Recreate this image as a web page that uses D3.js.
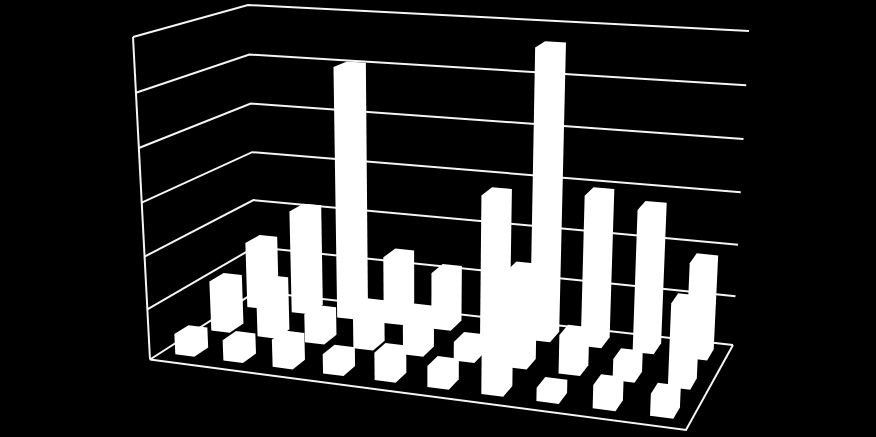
<!DOCTYPE html>
<html>
<head>
<meta charset="utf-8">
<script src="https://cdnjs.cloudflare.com/ajax/libs/d3/7.8.5/d3.min.js"></script>
<style>
  html, body { margin: 0; background: #000; overflow: hidden; }
</style>
</head>
<body>
<div id="chart"></div>
<script>
const columns = ["1", "2", "3", "4", "5", "6", "7", "8", "9", "10"];
const rows = ["front", "middle", "back"];
const gridLevels = [0, 1, 2, 3, 4, 5, 6];

const frontRow = [0.42, 0.42, 0.55, 0.39, 0.55, 0.42, 1.1, 0.27, 0.46, 0.43];
const middleRow = [1.03, 1.09, 0.59, 0.845, 0.845, 0.39, 1.88, 0.77, 0.43, 1.6];
const backRow = [1.38, 2.12, 5.05, 1.38, 1.16, 2.79, 5.67, 2.96, 2.78, 1.87];

const width = 876;
const height = 437;

const svg = d3.select("#chart").append("svg")
  .attr("width", width)
  .attr("height", height)
  .style("display", "block")
  .style("background", "#000");

// corners: front left, front right, back right, back left
const floorQuad = [[150, 359.5], [686, 430], [733, 345], [256, 291.5]];
const ceilQuad = [[133, 37], [701, 83], [749, 31], [248, 5]];

function bilerp(q, s, t) {
  const lx = q[0][0] + (q[3][0] - q[0][0]) * t, ly = q[0][1] + (q[3][1] - q[0][1]) * t;
  const rx = q[1][0] + (q[2][0] - q[1][0]) * t, ry = q[1][1] + (q[2][1] - q[1][1]) * t;
  return [lx + (rx - lx) * s, ly + (ry - ly) * s];
}

const xBand = d3.scaleBand().domain(columns).range([0, 1]).paddingInner(0.6).paddingOuter(0.3);
const zBand = d3.scaleBand().domain(rows).range([0, 1.034]).paddingInner(0.61).paddingOuter(0.304);
// levels sit slightly closer together near the floor
const yScale = d3.scalePow().exponent(1.04).domain([0, 6]).range([0, 1]);

// columns get a bit wider toward the right hand, nearer side
const warp = s => 0.89 * s + 0.11 * s * s;

function project(s, t, value) {
  const p0 = bilerp(floorQuad, warp(s), t);
  const p1 = bilerp(ceilQuad, warp(s), t);
  const k = yScale(value);
  return [p0[0] + (p1[0] - p0[0]) * k, p0[1] + (p1[1] - p0[1]) * k];
}

const line = d3.line();

// walls and floor
const grid = svg.append("g").attr("fill", "none").attr("stroke", "#f5f5f5").attr("stroke-width", 2);

grid.selectAll("path.level")
  .data(gridLevels)
  .join("path")
  .attr("class", "level")
  .attr("d", d => line([project(0, 0, d), project(0, 1, d), project(1, 1, d)]));

grid.append("path").attr("d", line([project(0, 0, 0), project(0, 0, 6)]));
grid.append("path").attr("d", line([project(0, 0, 0), project(1, 0, 0), project(1, 1, 0)]));

const series = [
  { row: "back", values: backRow },
  { row: "middle", values: middleRow },
  { row: "front", values: frontRow }
];

const bars = [];
series.forEach(r => {
  r.values.forEach((v, i) => bars.push({ row: r.row, col: columns[i], value: v }));
});

function barOutline(d) {
  const s0 = xBand(d.col), s1 = s0 + xBand.bandwidth();
  const t0 = zBand(d.row), t1 = t0 + zBand.bandwidth();
  return line([
    project(s0, t0, 0),
    project(s1, t0, 0),
    project(s1, t1, 0),
    project(s1, t1, d.value),
    project(s0, t1, d.value),
    project(s0, t0, d.value)
  ]) + "Z";
}

svg.append("g")
  .selectAll("path")
  .data(bars)
  .join("path")
  .attr("d", barOutline)
  .attr("fill", "#fff");
</script>
</body>
</html>
